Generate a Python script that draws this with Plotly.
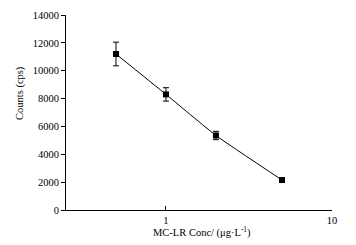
import plotly.graph_objects as go
import numpy as np

conc = [0.5, 1, 2, 5]
counts = [11200, 8300, 5350, 2150]
err = [850, 480, 300, 100]
y_ticks = [0, 2000, 4000, 6000, 8000, 10000, 12000, 14000]
x_ticks = [1, 10]

fig = go.Figure()
fig.add_trace(go.Scatter(
    x=conc, y=counts, mode="lines+markers",
    line=dict(color="black", width=1, shape="spline", smoothing=0.4),
    marker=dict(symbol="square", size=6, color="black"),
    error_y=dict(type="data", array=err, visible=True, color="black", thickness=1, width=3),
    showlegend=False,
))

font_family = "Liberation Serif, Times New Roman, serif"
fig.update_layout(
    width=356, height=245,
    margin=dict(l=66, r=24, t=15, b=35),
    paper_bgcolor="white", plot_bgcolor="white",
    font=dict(family=font_family, size=11, color="black"),
)
fig.update_xaxes(
    type="log", range=[np.log10(0.25), 1], automargin=False,
    tickvals=x_ticks, ticktext=[str(v) for v in x_ticks],
    showgrid=False, zeroline=False,
    showline=True, linecolor="black", linewidth=1,
    ticks="inside", ticklen=4, tickcolor="black",
    tickfont=dict(size=10.5),
)
fig.update_yaxes(
    range=[0, 14000], automargin=False,
    tickvals=y_ticks, ticktext=[str(v) for v in y_ticks],
    showgrid=False, zeroline=False,
    showline=True, linecolor="black", linewidth=1,
    ticks="outside", ticklen=4, tickcolor="black",
    tickfont=dict(size=10.5),
)
fig.add_annotation(
    text="MC-LR Conc/ (μg·L<sup>-1</sup>)", xref="paper", yref="paper",
    x=0.51, y=0, yshift=-22, xanchor="center", yanchor="middle",
    showarrow=False, font=dict(size=10.5),
)
fig.add_annotation(
    text="Counts (cps)", xref="paper", yref="paper",
    x=0, xshift=-46, y=0.6, xanchor="center", yanchor="middle",
    textangle=-90, showarrow=False, font=dict(size=10.5),
)
fig.write_html("out.html", config={"displayModeBar": False},
               post_script="document.body.style.margin='0';")
